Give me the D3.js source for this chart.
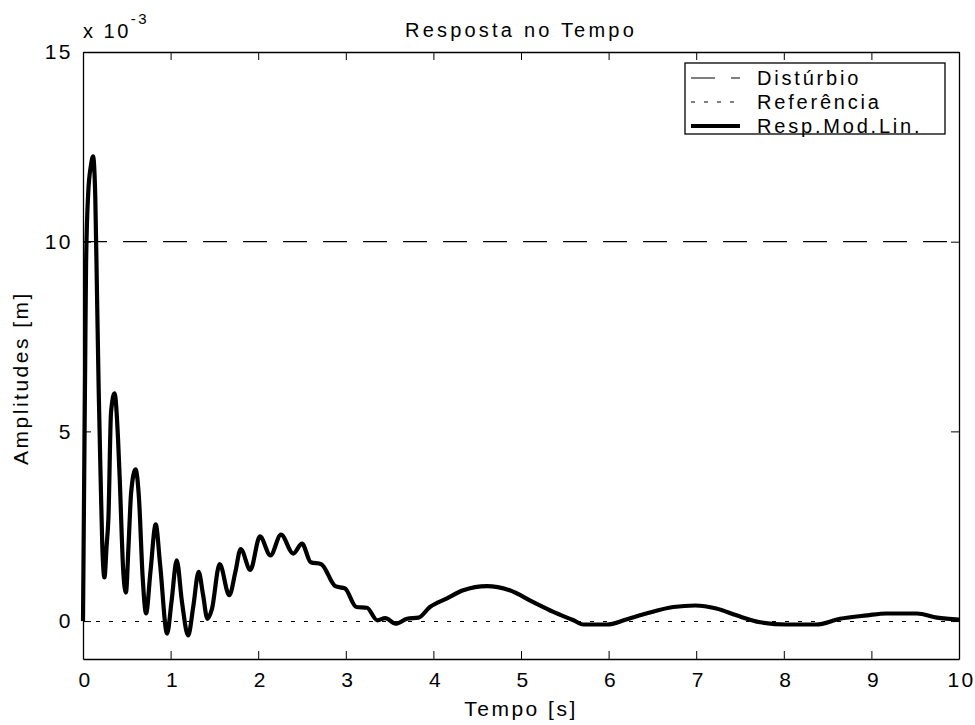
<!DOCTYPE html>
<html>
<head>
<meta charset="utf-8">
<script src="https://cdn.jsdelivr.net/npm/d3@7"></script>
<style>
  body { margin: 0; background: #fff; }
  text { font-family: "Liberation Sans", Arial, sans-serif; fill: #000; }
</style>
</head>
<body>
<svg id="chart"></svg>
<script>
// amplitude data (values in 1e-3 m)
const tempo = [0, 0.01, 0.02, 0.025, 0.035, 0.06, 0.09, 0.115, 0.14, 0.16, 0.18, 0.2, 0.22, 0.245,
  0.27, 0.29, 0.32, 0.36, 0.4, 0.42, 0.46, 0.49, 0.52, 0.55, 0.6, 0.64, 0.68, 0.72, 0.77, 0.83,
  0.88, 0.96, 1.01, 1.07, 1.13, 1.2, 1.26, 1.32, 1.37, 1.42, 1.47, 1.56, 1.67, 1.74, 1.8, 1.91,
  2.02, 2.14, 2.26, 2.4, 2.5, 2.6, 2.72, 2.88, 2.99, 3.12, 3.24, 3.36, 3.45, 3.57, 3.7, 3.83,
  3.96, 4.15, 4.34, 4.61, 4.87, 5.14, 5.37, 5.6, 5.71, 5.98, 6.2, 6.43, 6.74, 6.99, 7.23, 7.46,
  7.73, 8.03, 8.37, 8.64, 8.95, 9.17, 9.52, 9.75, 10];
const resposta = [0, 2.8, 5.5, 6.8, 9.4, 11.3, 12.0, 12.25, 11.2, 8.6, 6.0, 3.9, 2.0, 1.15,
  2.0, 2.7, 5.5, 6.0, 4.8, 3.7, 1.3, 0.75, 2.0, 3.4, 4.0, 3.2, 1.2, 0.2, 1.3, 2.55,
  1.5, -0.33, 0.5, 1.6, 0.5, -0.38, 0.4, 1.3, 0.7, 0.06, 0.3, 1.5, 0.68, 1.3, 1.9, 1.35,
  2.23, 1.73, 2.28, 1.78, 2.04, 1.55, 1.5, 0.92, 0.86, 0.37, 0.35, 0.02, 0.08, -0.07, 0.06, 0.09,
  0.37, 0.59, 0.81, 0.92, 0.81, 0.5, 0.24, 0.02, -0.09, -0.09, 0.04, 0.2, 0.37, 0.41, 0.33, 0.15,
  -0.03, -0.09, -0.09, 0.06, 0.15, 0.2, 0.2, 0.09, 0.04];
const disturbio = 10;
const referencia = 0;
const xTicks = [0, 1, 2, 3, 4, 5, 6, 7, 8, 9, 10];
const yTicks = [0, 5, 10, 15];
const legendLabels = ["Distúrbio", "Referência", "Resp.Mod.Lin."];

const width = 975, height = 725;
const margin = { top: 52, right: 16, bottom: 66, left: 83 };

const svg = d3.select("#chart")
  .attr("width", width)
  .attr("height", height)
  .attr("viewBox", [0, 0, width, height]);

const x = d3.scaleLinear().domain([0, 10]).range([margin.left, width - margin.right]);
const y = d3.scaleLinear().domain([-1, 15]).range([height - margin.bottom, margin.top]);

const tickLen = 8;
const letter = "2.5px";

// axes box with ticks inside
svg.append("g")
  .attr("transform", `translate(0,${height - margin.bottom})`)
  .call(d3.axisBottom(x).tickValues(xTicks).tickSizeInner(-tickLen).tickSizeOuter(0).tickPadding(13))
  .call(g => {
    g.select(".domain").attr("stroke-width", 1.3);
    g.selectAll(".tick text").attr("font-size", 21).style("letter-spacing", letter)
      .attr("font-family", null).attr("dx", "0.1em");
  });

svg.append("g")
  .attr("transform", `translate(0,${margin.top})`)
  .call(d3.axisTop(x).tickValues(xTicks).tickSizeInner(-tickLen).tickSizeOuter(0).tickFormat(""))
  .call(g => g.select(".domain").attr("stroke-width", 1.3));

svg.append("g")
  .attr("transform", `translate(${margin.left},0)`)
  .call(d3.axisLeft(y).tickValues(yTicks).tickSizeInner(-tickLen).tickSizeOuter(0).tickPadding(10))
  .call(g => {
    g.select(".domain").attr("stroke-width", 1.3);
    g.selectAll(".tick text").attr("font-size", 21).style("letter-spacing", letter)
      .attr("font-family", null);
  });

svg.append("g")
  .attr("transform", `translate(${width - margin.right},0)`)
  .call(d3.axisRight(y).tickValues(yTicks).tickSizeInner(-tickLen).tickSizeOuter(0).tickFormat(""))
  .call(g => g.select(".domain").attr("stroke-width", 1.3));

// exponent label
const expo = svg.append("text")
  .attr("x", margin.left)
  .attr("y", 38)
  .attr("font-size", 20)
  .style("letter-spacing", letter);
expo.append("tspan").text("x 10");
expo.append("tspan").attr("dy", -14).attr("font-size", 15).text("-3");

// reference lines
svg.append("line")
  .attr("x1", x(0)).attr("x2", x(10))
  .attr("y1", y(disturbio)).attr("y2", y(disturbio))
  .attr("stroke", "#000").attr("stroke-width", 1.2)
  .attr("stroke-dasharray", "24,16");

svg.append("line")
  .attr("x1", x(0)).attr("x2", x(10))
  .attr("y1", Math.round(y(referencia)) + 0.5).attr("y2", Math.round(y(referencia)) + 0.5)
  .attr("stroke", "#000").attr("stroke-width", 1.2)
  .attr("stroke-dasharray", "4,9");

// response curve
const line = d3.line()
  .x((d, i) => x(tempo[i]))
  .y(d => y(d))
  .curve(d3.curveMonotoneX);

svg.append("path")
  .datum(resposta)
  .attr("d", line)
  .attr("fill", "none")
  .attr("stroke", "#000")
  .attr("stroke-width", 4.2)
  .attr("stroke-linejoin", "round");

// titles
svg.append("text")
  .attr("x", (x(0) + x(10)) / 2)
  .attr("y", 37)
  .attr("text-anchor", "middle")
  .attr("font-size", 20)
  .style("letter-spacing", "3.2px")
  .text("Resposta no Tempo");

svg.append("text")
  .attr("x", (x(0) + x(10)) / 2)
  .attr("y", 716)
  .attr("text-anchor", "middle")
  .attr("font-size", 21)
  .style("letter-spacing", letter)
  .text("Tempo [s]");

svg.append("text")
  .attr("transform", `translate(28,378) rotate(-90)`)
  .attr("text-anchor", "middle")
  .attr("font-size", 21)
  .style("letter-spacing", letter)
  .text("Amplitudes [m]");

// legend
const legend = svg.append("g");
legend.append("rect")
  .attr("x", 685).attr("y", 63)
  .attr("width", 260).attr("height", 71)
  .attr("fill", "#fff").attr("stroke", "#000").attr("stroke-width", 1.3);

const dashes = ["24,16", "4,9", null];
const widths = [1.2, 1.2, 4.2];
legendLabels.forEach((lab, i) => {
  const ly = 78 + i * 24;
  legend.append("line")
    .attr("x1", 691).attr("x2", 740)
    .attr("y1", ly).attr("y2", ly)
    .attr("stroke", "#000")
    .attr("stroke-width", widths[i])
    .attr("stroke-dasharray", dashes[i]);
  legend.append("text")
    .attr("x", 757).attr("y", ly + 7)
    .attr("font-size", 20)
    .style("letter-spacing", "2.8px")
    .text(lab);
});
</script>
</body>
</html>
